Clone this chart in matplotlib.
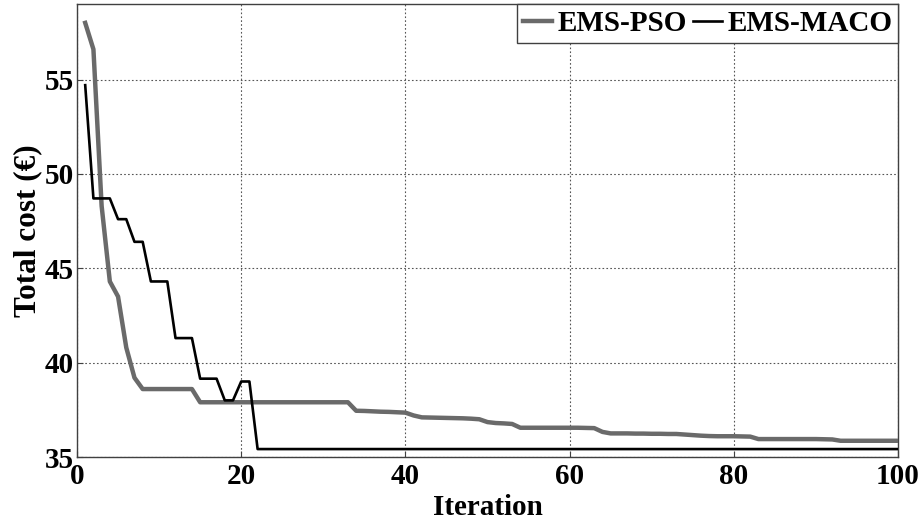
import matplotlib
matplotlib.use("Agg")
import matplotlib.pyplot as plt

iterations = list(range(1, 101))

ems_pso = [
    58.0, 56.6, 48.3, 44.3, 43.5, 40.8, 39.2, 38.6, 38.6, 38.6,
    38.6, 38.6, 38.6, 38.6, 37.9, 37.9, 37.9, 37.9, 37.9, 37.9,
    37.9, 37.9, 37.9, 37.9, 37.9, 37.9, 37.9, 37.9, 37.9, 37.9,
    37.9, 37.9, 37.9, 37.45, 37.44, 37.42, 37.4, 37.39, 37.37, 37.35,
    37.2, 37.1, 37.09, 37.08, 37.07, 37.06, 37.05, 37.03, 37.0, 36.85,
    36.8, 36.78, 36.75, 36.55, 36.55, 36.55, 36.55, 36.55, 36.55, 36.55,
    36.55, 36.54, 36.53, 36.33, 36.25, 36.25, 36.25, 36.24, 36.24, 36.23,
    36.23, 36.22, 36.22, 36.19, 36.16, 36.13, 36.11, 36.1, 36.1, 36.1,
    36.09, 36.08, 35.95, 35.95, 35.95, 35.95, 35.95, 35.95, 35.95, 35.95,
    35.94, 35.93, 35.86, 35.86, 35.86, 35.86, 35.86, 35.86, 35.86, 35.86,
]

ems_maco = [
    54.7, 48.7, 48.7, 48.7, 47.6, 47.6, 46.4, 46.4, 44.3, 44.3,
    44.3, 41.3, 41.3, 41.3, 39.15, 39.15, 39.15, 38.0, 38.0, 39.0,
    39.0, 35.42, 35.42, 35.42, 35.42, 35.42, 35.42, 35.42, 35.42, 35.42,
    35.42, 35.42, 35.42, 35.42, 35.42, 35.42, 35.42, 35.42, 35.42, 35.42,
    35.42, 35.42, 35.42, 35.42, 35.42, 35.42, 35.42, 35.42, 35.42, 35.42,
    35.42, 35.42, 35.42, 35.42, 35.42, 35.42, 35.42, 35.42, 35.42, 35.42,
    35.42, 35.42, 35.42, 35.42, 35.42, 35.42, 35.42, 35.42, 35.42, 35.42,
    35.42, 35.42, 35.42, 35.42, 35.42, 35.42, 35.42, 35.42, 35.42, 35.42,
    35.42, 35.42, 35.42, 35.42, 35.42, 35.42, 35.42, 35.42, 35.42, 35.42,
    35.42, 35.42, 35.42, 35.42, 35.42, 35.42, 35.42, 35.42, 35.42, 35.42,
]

x_ticks = [0, 20, 40, 60, 80, 100]
y_ticks = [35, 40, 45, 50, 55]

plt.rcParams["font.family"] = ["Liberation Serif", "DejaVu Serif"]
plt.rcParams["font.weight"] = "bold"
fs = 21

fig = plt.figure(figsize=(9.23, 5.21), dpi=100)
ax = fig.add_axes([77 / 923, 1 - 457 / 521, (898 - 77) / 923, (457 - 4) / 521])

ax.plot(iterations, ems_pso, color="#6a6a6a", lw=3.2, label="EMS-PSO", zorder=3)
ax.plot(iterations, ems_maco, color="black", lw=1.9, label="EMS-MACO", zorder=4)

ax.set_xlim(0, 100)
ax.set_ylim(35, 59)
ax.set_xticks(x_ticks)
ax.set_yticks(y_ticks)
ax.tick_params(direction="in", length=4, width=0.8, labelsize=fs,
               colors="#404040", labelcolor="black")
ax.tick_params(axis="x", pad=4)
ax.tick_params(axis="y", pad=2)
for lbl in ax.get_xticklabels() + ax.get_yticklabels():
    lbl.set_fontweight("bold")

ax.grid(True, linestyle=(0, (1.5, 2)), color="#555555", lw=0.8)
for sp in ax.spines.values():
    sp.set_color("#404040")
    sp.set_linewidth(1.0)

ax.set_xlabel("Iteration", fontsize=fs, fontweight="bold", labelpad=3)
ax.set_ylabel("Total cost (€)", fontsize=22.5, fontweight="bold", labelpad=2)

leg = ax.legend(loc="upper right", ncol=2, fontsize=fs, frameon=True, fancybox=False,
                edgecolor="#404040", borderaxespad=0, handlelength=1.0,
                handletextpad=0.17, columnspacing=0.22, borderpad=0.2)
leg.get_frame().set_linewidth(1.0)
leg.get_frame().set_alpha(1)
for t in leg.get_texts():
    t.set_fontweight("bold")

fig.savefig("out.png", dpi=100)
